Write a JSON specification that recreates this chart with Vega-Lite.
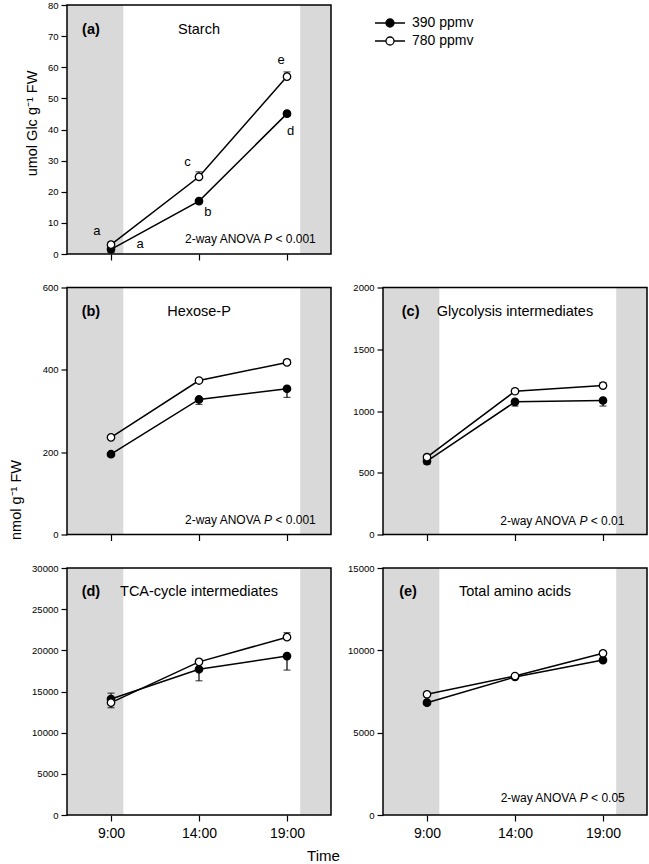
{
  "$schema": "https://vega.github.io/schema/vega-lite/v6.json",
  "padding": {"left": 8, "top": 0, "right": 0, "bottom": 0},
  "background": "white",
  "config": {
    "font": "Liberation Sans",
    "view": {"stroke": null},
    "axis": {"grid": false, "domain": false, "tickColor": "black", "tickWidth": 1.2, "labelColor": "black", "titleColor": "black", "labelFont": "Liberation Sans", "titleFont": "Liberation Sans", "titleFontWeight": "normal", "labelOverlap": false},
    "axisY": {"tickSize": 6, "labelFontSize": 9.5, "labelPadding": 3, "titleFontSize": 14.5},
    "axisX": {"tickSize": 6, "labelFontSize": 14, "labelPadding": 5, "titleFontSize": 15},
    "text": {"color": "black", "font": "Liberation Sans"}
  },
  "datasets": {
    "bands": [{"start": 6.5, "end": 9.7}, {"start": 19.75, "end": 21.5}],
    "starch": [
      {"t": 9, "s": "390 ppmv", "v": 1.5, "lo": 0.5, "hi": 1.5},
      {"t": 14, "s": "390 ppmv", "v": 17.0, "lo": 16.2, "hi": 17.0},
      {"t": 19, "s": "390 ppmv", "v": 45.1, "lo": 44.3, "hi": 45.1},
      {"t": 9, "s": "780 ppmv", "v": 3.0, "lo": 3.0, "hi": 3.8},
      {"t": 14, "s": "780 ppmv", "v": 24.8, "lo": 24.8, "hi": 26.4},
      {"t": 19, "s": "780 ppmv", "v": 57.0, "lo": 57.0, "hi": 58.5}
    ],
    "hexose": [
      {"t": 9, "s": "390 ppmv", "v": 195, "lo": 190, "hi": 195},
      {"t": 14, "s": "390 ppmv", "v": 328, "lo": 316, "hi": 328},
      {"t": 19, "s": "390 ppmv", "v": 354, "lo": 333, "hi": 354},
      {"t": 9, "s": "780 ppmv", "v": 236, "lo": 236, "hi": 240},
      {"t": 14, "s": "780 ppmv", "v": 374, "lo": 374, "hi": 378},
      {"t": 19, "s": "780 ppmv", "v": 418, "lo": 418, "hi": 425}
    ],
    "glyc": [
      {"t": 9, "s": "390 ppmv", "v": 594, "lo": 570, "hi": 594},
      {"t": 14, "s": "390 ppmv", "v": 1074, "lo": 1040, "hi": 1074},
      {"t": 19, "s": "390 ppmv", "v": 1085, "lo": 1040, "hi": 1085},
      {"t": 9, "s": "780 ppmv", "v": 626, "lo": 626, "hi": 645},
      {"t": 14, "s": "780 ppmv", "v": 1160, "lo": 1160, "hi": 1180},
      {"t": 19, "s": "780 ppmv", "v": 1206, "lo": 1206, "hi": 1230}
    ],
    "tca": [
      {"t": 9, "s": "390 ppmv", "v": 14090, "lo": 14090, "hi": 14800},
      {"t": 14, "s": "390 ppmv", "v": 17700, "lo": 16300, "hi": 17700},
      {"t": 19, "s": "390 ppmv", "v": 19300, "lo": 17600, "hi": 19300},
      {"t": 9, "s": "780 ppmv", "v": 13650, "lo": 13030, "hi": 13650},
      {"t": 14, "s": "780 ppmv", "v": 18600, "lo": 18600, "hi": 18900},
      {"t": 19, "s": "780 ppmv", "v": 21600, "lo": 21600, "hi": 22150}
    ],
    "amino": [
      {"t": 9, "s": "390 ppmv", "v": 6820, "lo": 6700, "hi": 6820},
      {"t": 14, "s": "390 ppmv", "v": 8380, "lo": 8330, "hi": 8380},
      {"t": 19, "s": "390 ppmv", "v": 9410, "lo": 9300, "hi": 9410},
      {"t": 9, "s": "780 ppmv", "v": 7330, "lo": 7330, "hi": 7450},
      {"t": 14, "s": "780 ppmv", "v": 8440, "lo": 8440, "hi": 8500},
      {"t": 19, "s": "780 ppmv", "v": 9820, "lo": 9820, "hi": 9950}
    ]
  },
  "columns": 2,
  "spacing": {"row": 33.5, "column": 52},
  "bounds": "flush",
  "resolve": {"scale": {"fill": "shared"}, "legend": {"fill": "shared"}},
  "concat": [
    {
      "width": 264, "height": 249,
      "layer": [
        {"data": {"name": "bands"}, "mark": {"type": "rect", "color": "#d9d9d9"},
         "encoding": {"x": {"field": "start", "type": "quantitative", "scale": {"domain": [6.5, 21.5], "nice": false, "zero": false}, "axis": {"values": [9, 14, 19], "labels": false, "title": null}}, "x2": {"field": "end"}}},
        {"data": {"name": "starch"}, "mark": {"type": "rule", "color": "black", "strokeWidth": 1.2},
         "encoding": {"x": {"field": "t", "type": "quantitative"},
           "y": {"field": "lo", "type": "quantitative", "scale": {"domain": [0, 80], "nice": false}, "axis": {"values": [0, 10, 20, 30, 40, 50, 60, 70, 80], "tickCount": 20, "labelOverlap": false, "title": "umol Glc g⁻¹ FW", "titleX": -28, "titleY": 118}},
           "y2": {"field": "hi"}}},
        {"data": {"name": "starch"}, "transform": [{"fold": ["lo", "hi"], "as": ["k", "cap"]}],
         "mark": {"type": "tick", "orient": "horizontal", "size": 7, "thickness": 1.2, "color": "black"},
         "encoding": {"x": {"field": "t", "type": "quantitative"}, "y": {"field": "cap", "type": "quantitative"}}},
        {"data": {"name": "starch"}, "mark": {"type": "line", "color": "black", "strokeWidth": 1.5},
         "encoding": {
           "x": {"field": "t", "type": "quantitative"},
           "y": {"field": "v", "type": "quantitative"},
           "detail": {"field": "s"}}},
        {"data": {"name": "starch"}, "mark": {"type": "point", "shape": "circle", "filled": true, "size": 55, "stroke": "black", "strokeWidth": 1.3, "opacity": 1},
         "encoding": {"x": {"field": "t", "type": "quantitative"}, "y": {"field": "v", "type": "quantitative"},
           "fill": {"field": "s", "type": "nominal", "scale": {"domain": ["390 ppmv", "780 ppmv"], "range": ["black", "white"]},
             "legend": {"orient": "none", "legendX": 316, "legendY": 11, "title": null, "symbolType": "M-2.5,0L-0.67,0M0.67,0L2.5,0M-0.67,0A0.67,0.67,0,1,1,0.67,0A0.67,0.67,0,1,1,-0.67,0Z", "symbolSize": 144, "symbolStrokeColor": "black", "symbolStrokeWidth": 1.3, "labelFontSize": 14, "labelOffset": 15, "rowPadding": 4, "labelColor": "black"}}}},
        {"data": {"values": [{"x": 7.86, "y": 72, "label": "(a)"}]}, "mark": {"type": "text", "fontSize": 14.5, "fontWeight": "bold", "baseline": "middle", "align": "center"},
         "encoding": {"x": {"field": "x", "type": "quantitative"}, "y": {"field": "y", "type": "quantitative"}, "text": {"field": "label"}}},
        {"data": {"values": [{"x": 14, "y": 72, "label": "Starch"}]}, "mark": {"type": "text", "fontSize": 14.5, "baseline": "middle", "align": "center"},
         "encoding": {"x": {"field": "x", "type": "quantitative"}, "y": {"field": "y", "type": "quantitative"}, "text": {"field": "label"}}},
        {"data": {"values": [{"x": 8.2, "y": 7.4, "label": "a"}, {"x": 10.66, "y": 3.2, "label": "a"}, {"x": 13.34, "y": 29.6, "label": "c"}, {"x": 14.5, "y": 13.5, "label": "b"}, {"x": 18.66, "y": 62.4, "label": "e"}, {"x": 19.2, "y": 39.5, "label": "d"}]},
         "mark": {"type": "text", "fontSize": 13, "baseline": "middle", "align": "center"},
         "encoding": {"x": {"field": "x", "type": "quantitative"}, "y": {"field": "y", "type": "quantitative"}, "text": {"field": "label"}}},
        {"data": {"values": [{"x": 17.7, "y": 4.8, "pre": "2-way ANOVA", "p": "P", "post": "< 0.001"}]}, "mark": {"type": "text", "fontSize": 12, "baseline": "middle", "align": "right", "dx": -3.3},
         "encoding": {"x": {"field": "x", "type": "quantitative"}, "y": {"field": "y", "type": "quantitative"}, "text": {"field": "pre"}}},
        {"data": {"values": [{"x": 17.7, "y": 4.8, "pre": "2-way ANOVA", "p": "P", "post": "< 0.001"}]}, "mark": {"type": "text", "fontSize": 12, "fontStyle": "italic", "baseline": "middle", "align": "left"},
         "encoding": {"x": {"field": "x", "type": "quantitative"}, "y": {"field": "y", "type": "quantitative"}, "text": {"field": "p"}}},
        {"data": {"values": [{"x": 17.7, "y": 4.8, "pre": "2-way ANOVA", "p": "P", "post": "< 0.001"}]}, "mark": {"type": "text", "fontSize": 12, "baseline": "middle", "align": "left", "dx": 11.3},
         "encoding": {"x": {"field": "x", "type": "quantitative"}, "y": {"field": "y", "type": "quantitative"}, "text": {"field": "post"}}},
        {"data": {"values": [{}]}, "mark": {"type": "rect", "filled": false, "color": "black", "strokeWidth": 1.5},
         "encoding": {"x": {"datum": 6.5, "type": "quantitative"}, "x2": {"datum": 21.5}, "y": {"datum": 0, "type": "quantitative"}, "y2": {"datum": 80}}}
      ]
    },
    {
      "width": 264, "height": 249,
      "data": {"values": [{}]},
      "mark": {"type": "point", "opacity": 0},
      "encoding": {}
    },
    {
      "width": 264, "height": 247,
      "layer": [
        {"data": {"name": "bands"}, "mark": {"type": "rect", "color": "#d9d9d9"},
         "encoding": {"x": {"field": "start", "type": "quantitative", "scale": {"domain": [6.5, 21.5], "nice": false, "zero": false}, "axis": {"values": [9, 14, 19], "labels": false, "title": null}}, "x2": {"field": "end"}}},
        {"data": {"name": "hexose"}, "mark": {"type": "rule", "color": "black", "strokeWidth": 1.2},
         "encoding": {"x": {"field": "t", "type": "quantitative"},
           "y": {"field": "lo", "type": "quantitative", "scale": {"domain": [0, 600], "nice": false}, "axis": {"values": [0, 200, 400, 600], "tickCount": 20, "title": "nmol g⁻¹ FW", "titleX": -44, "titleY": 212}},
           "y2": {"field": "hi"}}},
        {"data": {"name": "hexose"}, "transform": [{"fold": ["lo", "hi"], "as": ["k", "cap"]}],
         "mark": {"type": "tick", "orient": "horizontal", "size": 7, "thickness": 1.2, "color": "black"},
         "encoding": {"x": {"field": "t", "type": "quantitative"}, "y": {"field": "cap", "type": "quantitative"}}},
        {"data": {"name": "hexose"}, "mark": {"type": "line", "color": "black", "strokeWidth": 1.5},
         "encoding": {"x": {"field": "t", "type": "quantitative"}, "y": {"field": "v", "type": "quantitative"}, "detail": {"field": "s"}}},
        {"data": {"name": "hexose"}, "mark": {"type": "point", "shape": "circle", "filled": true, "size": 55, "stroke": "black", "strokeWidth": 1.3, "opacity": 1},
         "encoding": {"x": {"field": "t", "type": "quantitative"}, "y": {"field": "v", "type": "quantitative"},
           "fill": {"field": "s", "type": "nominal", "scale": {"domain": ["390 ppmv", "780 ppmv"], "range": ["black", "white"]}}}},
        {"data": {"values": [{"x": 7.86, "y": 540, "label": "(b)"}]}, "mark": {"type": "text", "fontSize": 14.5, "fontWeight": "bold", "baseline": "middle", "align": "center"},
         "encoding": {"x": {"field": "x", "type": "quantitative"}, "y": {"field": "y", "type": "quantitative"}, "text": {"field": "label"}}},
        {"data": {"values": [{"x": 14, "y": 540, "label": "Hexose-P"}]}, "mark": {"type": "text", "fontSize": 14.5, "baseline": "middle", "align": "center"},
         "encoding": {"x": {"field": "x", "type": "quantitative"}, "y": {"field": "y", "type": "quantitative"}, "text": {"field": "label"}}},
        {"data": {"values": [{"x": 17.7, "y": 36, "pre": "2-way ANOVA", "p": "P", "post": "< 0.001"}]}, "mark": {"type": "text", "fontSize": 12, "baseline": "middle", "align": "right", "dx": -3.3},
         "encoding": {"x": {"field": "x", "type": "quantitative"}, "y": {"field": "y", "type": "quantitative"}, "text": {"field": "pre"}}},
        {"data": {"values": [{"x": 17.7, "y": 36, "pre": "2-way ANOVA", "p": "P", "post": "< 0.001"}]}, "mark": {"type": "text", "fontSize": 12, "fontStyle": "italic", "baseline": "middle", "align": "left"},
         "encoding": {"x": {"field": "x", "type": "quantitative"}, "y": {"field": "y", "type": "quantitative"}, "text": {"field": "p"}}},
        {"data": {"values": [{"x": 17.7, "y": 36, "pre": "2-way ANOVA", "p": "P", "post": "< 0.001"}]}, "mark": {"type": "text", "fontSize": 12, "baseline": "middle", "align": "left", "dx": 11.3},
         "encoding": {"x": {"field": "x", "type": "quantitative"}, "y": {"field": "y", "type": "quantitative"}, "text": {"field": "post"}}},
        {"data": {"values": [{}]}, "mark": {"type": "rect", "filled": false, "color": "black", "strokeWidth": 1.5},
         "encoding": {"x": {"datum": 6.5, "type": "quantitative"}, "x2": {"datum": 21.5}, "y": {"datum": 0, "type": "quantitative"}, "y2": {"datum": 600}}}
      ]
    },
    {
      "width": 264, "height": 247,
      "layer": [
        {"data": {"name": "bands"}, "mark": {"type": "rect", "color": "#d9d9d9"},
         "encoding": {"x": {"field": "start", "type": "quantitative", "scale": {"domain": [6.5, 21.5], "nice": false, "zero": false}, "axis": {"values": [9, 14, 19], "labels": false, "title": null}}, "x2": {"field": "end"}}},
        {"data": {"name": "glyc"}, "mark": {"type": "rule", "color": "black", "strokeWidth": 1.2},
         "encoding": {"x": {"field": "t", "type": "quantitative"},
           "y": {"field": "lo", "type": "quantitative", "scale": {"domain": [0, 2000], "nice": false}, "axis": {"values": [0, 500, 1000, 1500, 2000], "tickCount": 20, "format": "d", "title": null}},
           "y2": {"field": "hi"}}},
        {"data": {"name": "glyc"}, "transform": [{"fold": ["lo", "hi"], "as": ["k", "cap"]}],
         "mark": {"type": "tick", "orient": "horizontal", "size": 7, "thickness": 1.2, "color": "black"},
         "encoding": {"x": {"field": "t", "type": "quantitative"}, "y": {"field": "cap", "type": "quantitative"}}},
        {"data": {"name": "glyc"}, "mark": {"type": "line", "color": "black", "strokeWidth": 1.5},
         "encoding": {"x": {"field": "t", "type": "quantitative"}, "y": {"field": "v", "type": "quantitative"}, "detail": {"field": "s"}}},
        {"data": {"name": "glyc"}, "mark": {"type": "point", "shape": "circle", "filled": true, "size": 55, "stroke": "black", "strokeWidth": 1.3, "opacity": 1},
         "encoding": {"x": {"field": "t", "type": "quantitative"}, "y": {"field": "v", "type": "quantitative"},
           "fill": {"field": "s", "type": "nominal", "scale": {"domain": ["390 ppmv", "780 ppmv"], "range": ["black", "white"]}}}},
        {"data": {"values": [{"x": 8.07, "y": 1800, "label": "(c)"}]}, "mark": {"type": "text", "fontSize": 14.5, "fontWeight": "bold", "baseline": "middle", "align": "center"},
         "encoding": {"x": {"field": "x", "type": "quantitative"}, "y": {"field": "y", "type": "quantitative"}, "text": {"field": "label"}}},
        {"data": {"values": [{"x": 14, "y": 1800, "label": "Glycolysis intermediates"}]}, "mark": {"type": "text", "fontSize": 14.5, "baseline": "middle", "align": "center"},
         "encoding": {"x": {"field": "x", "type": "quantitative"}, "y": {"field": "y", "type": "quantitative"}, "text": {"field": "label"}}},
        {"data": {"values": [{"x": 17.66, "y": 113, "pre": "2-way ANOVA", "p": "P", "post": "< 0.01"}]}, "mark": {"type": "text", "fontSize": 12, "baseline": "middle", "align": "right", "dx": -3.3},
         "encoding": {"x": {"field": "x", "type": "quantitative"}, "y": {"field": "y", "type": "quantitative"}, "text": {"field": "pre"}}},
        {"data": {"values": [{"x": 17.66, "y": 113, "pre": "2-way ANOVA", "p": "P", "post": "< 0.01"}]}, "mark": {"type": "text", "fontSize": 12, "fontStyle": "italic", "baseline": "middle", "align": "left"},
         "encoding": {"x": {"field": "x", "type": "quantitative"}, "y": {"field": "y", "type": "quantitative"}, "text": {"field": "p"}}},
        {"data": {"values": [{"x": 17.66, "y": 113, "pre": "2-way ANOVA", "p": "P", "post": "< 0.01"}]}, "mark": {"type": "text", "fontSize": 12, "baseline": "middle", "align": "left", "dx": 11.3},
         "encoding": {"x": {"field": "x", "type": "quantitative"}, "y": {"field": "y", "type": "quantitative"}, "text": {"field": "post"}}},
        {"data": {"values": [{}]}, "mark": {"type": "rect", "filled": false, "color": "black", "strokeWidth": 1.5},
         "encoding": {"x": {"datum": 6.5, "type": "quantitative"}, "x2": {"datum": 21.5}, "y": {"datum": 0, "type": "quantitative"}, "y2": {"datum": 2000}}}
      ]
    },
    {
      "width": 264, "height": 247,
      "layer": [
        {"data": {"name": "bands"}, "mark": {"type": "rect", "color": "#d9d9d9"},
         "encoding": {"x": {"field": "start", "type": "quantitative", "scale": {"domain": [6.5, 21.5], "nice": false, "zero": false}, "axis": {"values": [9, 14, 19], "labelExpr": "datum.value + ':00'", "title": "Time", "titleX": 256, "titleY": 33, "titleBaseline": "top", "titleAlign": "center"}}, "x2": {"field": "end"}}},
        {"data": {"name": "tca"}, "mark": {"type": "rule", "color": "black", "strokeWidth": 1.2},
         "encoding": {"x": {"field": "t", "type": "quantitative"},
           "y": {"field": "lo", "type": "quantitative", "scale": {"domain": [0, 30000], "nice": false}, "axis": {"values": [0, 5000, 10000, 15000, 20000, 25000, 30000], "tickCount": 20, "format": "d", "title": null}},
           "y2": {"field": "hi"}}},
        {"data": {"name": "tca"}, "transform": [{"fold": ["lo", "hi"], "as": ["k", "cap"]}],
         "mark": {"type": "tick", "orient": "horizontal", "size": 7, "thickness": 1.2, "color": "black"},
         "encoding": {"x": {"field": "t", "type": "quantitative"}, "y": {"field": "cap", "type": "quantitative"}}},
        {"data": {"name": "tca"}, "mark": {"type": "line", "color": "black", "strokeWidth": 1.5},
         "encoding": {"x": {"field": "t", "type": "quantitative"}, "y": {"field": "v", "type": "quantitative"}, "detail": {"field": "s"}}},
        {"data": {"name": "tca"}, "mark": {"type": "point", "shape": "circle", "filled": true, "size": 55, "stroke": "black", "strokeWidth": 1.3, "opacity": 1},
         "encoding": {"x": {"field": "t", "type": "quantitative"}, "y": {"field": "v", "type": "quantitative"},
           "fill": {"field": "s", "type": "nominal", "scale": {"domain": ["390 ppmv", "780 ppmv"], "range": ["black", "white"]}}}},
        {"data": {"values": [{"x": 7.86, "y": 27050, "label": "(d)"}]}, "mark": {"type": "text", "fontSize": 14.5, "fontWeight": "bold", "baseline": "middle", "align": "center"},
         "encoding": {"x": {"field": "x", "type": "quantitative"}, "y": {"field": "y", "type": "quantitative"}, "text": {"field": "label"}}},
        {"data": {"values": [{"x": 14, "y": 27050, "label": "TCA-cycle intermediates"}]}, "mark": {"type": "text", "fontSize": 14.5, "baseline": "middle", "align": "center"},
         "encoding": {"x": {"field": "x", "type": "quantitative"}, "y": {"field": "y", "type": "quantitative"}, "text": {"field": "label"}}},
        {"data": {"values": [{}]}, "mark": {"type": "rect", "filled": false, "color": "black", "strokeWidth": 1.5},
         "encoding": {"x": {"datum": 6.5, "type": "quantitative"}, "x2": {"datum": 21.5}, "y": {"datum": 0, "type": "quantitative"}, "y2": {"datum": 30000}}}
      ]
    },
    {
      "width": 264, "height": 247,
      "layer": [
        {"data": {"name": "bands"}, "mark": {"type": "rect", "color": "#d9d9d9"},
         "encoding": {"x": {"field": "start", "type": "quantitative", "scale": {"domain": [6.5, 21.5], "nice": false, "zero": false}, "axis": {"values": [9, 14, 19], "labelExpr": "datum.value + ':00'", "title": null}}, "x2": {"field": "end"}}},
        {"data": {"name": "amino"}, "mark": {"type": "rule", "color": "black", "strokeWidth": 1.2},
         "encoding": {"x": {"field": "t", "type": "quantitative"},
           "y": {"field": "lo", "type": "quantitative", "scale": {"domain": [0, 15000], "nice": false}, "axis": {"values": [0, 5000, 10000, 15000], "tickCount": 20, "format": "d", "title": null}},
           "y2": {"field": "hi"}}},
        {"data": {"name": "amino"}, "transform": [{"fold": ["lo", "hi"], "as": ["k", "cap"]}],
         "mark": {"type": "tick", "orient": "horizontal", "size": 7, "thickness": 1.2, "color": "black"},
         "encoding": {"x": {"field": "t", "type": "quantitative"}, "y": {"field": "cap", "type": "quantitative"}}},
        {"data": {"name": "amino"}, "mark": {"type": "line", "color": "black", "strokeWidth": 1.5},
         "encoding": {"x": {"field": "t", "type": "quantitative"}, "y": {"field": "v", "type": "quantitative"}, "detail": {"field": "s"}}},
        {"data": {"name": "amino"}, "mark": {"type": "point", "shape": "circle", "filled": true, "size": 55, "stroke": "black", "strokeWidth": 1.3, "opacity": 1},
         "encoding": {"x": {"field": "t", "type": "quantitative"}, "y": {"field": "v", "type": "quantitative"},
           "fill": {"field": "s", "type": "nominal", "scale": {"domain": ["390 ppmv", "780 ppmv"], "range": ["black", "white"]}}}},
        {"data": {"values": [{"x": 7.92, "y": 13520, "label": "(e)"}]}, "mark": {"type": "text", "fontSize": 14.5, "fontWeight": "bold", "baseline": "middle", "align": "center"},
         "encoding": {"x": {"field": "x", "type": "quantitative"}, "y": {"field": "y", "type": "quantitative"}, "text": {"field": "label"}}},
        {"data": {"values": [{"x": 14, "y": 13520, "label": "Total amino acids"}]}, "mark": {"type": "text", "fontSize": 14.5, "baseline": "middle", "align": "center"},
         "encoding": {"x": {"field": "x", "type": "quantitative"}, "y": {"field": "y", "type": "quantitative"}, "text": {"field": "label"}}},
        {"data": {"values": [{"x": 17.68, "y": 1010, "pre": "2-way ANOVA", "p": "P", "post": "< 0.05"}]}, "mark": {"type": "text", "fontSize": 12, "baseline": "middle", "align": "right", "dx": -3.3},
         "encoding": {"x": {"field": "x", "type": "quantitative"}, "y": {"field": "y", "type": "quantitative"}, "text": {"field": "pre"}}},
        {"data": {"values": [{"x": 17.68, "y": 1010, "pre": "2-way ANOVA", "p": "P", "post": "< 0.05"}]}, "mark": {"type": "text", "fontSize": 12, "fontStyle": "italic", "baseline": "middle", "align": "left"},
         "encoding": {"x": {"field": "x", "type": "quantitative"}, "y": {"field": "y", "type": "quantitative"}, "text": {"field": "p"}}},
        {"data": {"values": [{"x": 17.68, "y": 1010, "pre": "2-way ANOVA", "p": "P", "post": "< 0.05"}]}, "mark": {"type": "text", "fontSize": 12, "baseline": "middle", "align": "left", "dx": 11.3},
         "encoding": {"x": {"field": "x", "type": "quantitative"}, "y": {"field": "y", "type": "quantitative"}, "text": {"field": "post"}}},
        {"data": {"values": [{}]}, "mark": {"type": "rect", "filled": false, "color": "black", "strokeWidth": 1.5},
         "encoding": {"x": {"datum": 6.5, "type": "quantitative"}, "x2": {"datum": 21.5}, "y": {"datum": 0, "type": "quantitative"}, "y2": {"datum": 15000}}}
      ]
    }
  ]
}
